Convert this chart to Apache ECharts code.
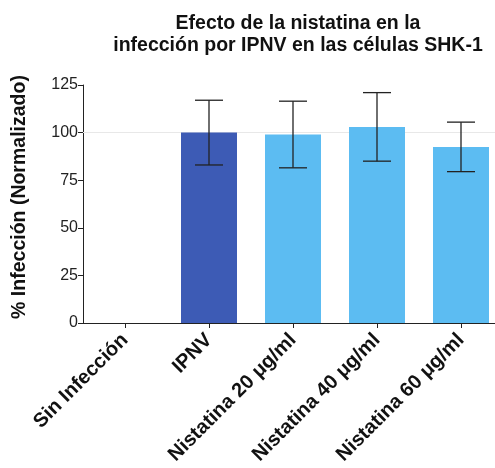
<!DOCTYPE html>
<html><head><meta charset="utf-8">
<script src="https://cdn.jsdelivr.net/npm/echarts@6/dist/echarts.min.js"></script>
<style>html,body{margin:0;padding:0;background:#fff}#c{width:495px;height:468px}</style>
</head><body><div id="c"></div>
<script>
var categories = ['Sin Infección', 'IPNV', 'Nistatina 20 μg/ml', 'Nistatina 40 μg/ml', 'Nistatina 60 μg/ml'];
var means = [0, 100, 99, 103, 92.5];
var errs = [0, 17, 17.5, 18, 13];
var yTicks = [0, 25, 50, 75, 100, 125];
var barColors = ['#3d5bb5', '#3d5bb5', '#5cbcf2', '#5cbcf2', '#5cbcf2'];

var chart = echarts.init(document.getElementById('c'));
var font = 'Liberation Sans, Arial, sans-serif';
chart.setOption({
  animation: false,
  title: {
    text: 'Efecto de la nistatina en la\ninfección por IPNV en las células SHK-1',
    left: 293, top: 8, textAlign: 'center',
    textStyle: {fontFamily: font, fontWeight: 'bold', fontSize: 19.5, lineHeight: 22, color: '#111'}
  },
  grid: {left: 83, width: 420, top: 85, bottom: 145, containLabel: false, outerBoundsMode: 'none'},
  xAxis: {
    type: 'category', data: categories,
    axisLine: {lineStyle: {color: '#222', width: 1}},
    axisTick: {show: true, alignWithLabel: true, length: 5, lineStyle: {color: '#222'}},
    axisLabel: {rotate: 45, interval: 0, margin: 14, fontFamily: font, fontWeight: 'bold', fontSize: 20, color: '#111'}
  },
  yAxis: {
    type: 'value', min: 0, max: 125, interval: 25,
    name: '% Infección (Normalizado)', nameLocation: 'middle', nameGap: 53,
    nameTextStyle: {fontFamily: font, fontWeight: 'bold', fontSize: 19.5, color: '#111', padding: [0, 0, 0, 14]},
    axisLine: {show: true, lineStyle: {color: '#222', width: 1}},
    axisTick: {show: true, length: 5, lineStyle: {color: '#222'}},
    axisLabel: {fontFamily: font, fontSize: 16, color: '#222', margin: 5,
      formatter: function (v) { return yTicks.indexOf(v) >= 0 ? String(v) : ''; }},
    splitLine: {show: false}
  },
  series: [{
    type: 'line', data: [], z: 1,
    markLine: {
      silent: true, symbol: 'none', label: {show: false}, z: 1,
      lineStyle: {color: '#e8e8e8', type: 'solid', width: 1},
      data: [{yAxis: 100}]
    }
  }, {
    type: 'bar', barWidth: 56,
    data: means.map(function (v, i) { return {value: v, itemStyle: {color: barColors[i]}}; }),
    z: 3
  }, {
    type: 'custom',
    data: means.map(function (v, i) { return [i, v - errs[i], v + errs[i]]; }).filter(function (d) { return errs[d[0]] > 0; }),
    renderItem: function (params, api) {
      var lo = api.coord([api.value(0), api.value(1)]);
      var hi = api.coord([api.value(0), api.value(2)]);
      var hw = 14;
      var st = {stroke: '#222', lineWidth: 1.3};
      return {type: 'group', children: [
        {type: 'line', shape: {x1: hi[0], y1: hi[1], x2: lo[0], y2: lo[1]}, style: st},
        {type: 'line', shape: {x1: hi[0] - hw, y1: hi[1], x2: hi[0] + hw, y2: hi[1]}, style: st},
        {type: 'line', shape: {x1: lo[0] - hw, y1: lo[1], x2: lo[0] + hw, y2: lo[1]}, style: st}
      ]};
    },
    z: 5
  }]
});
</script></body></html>
